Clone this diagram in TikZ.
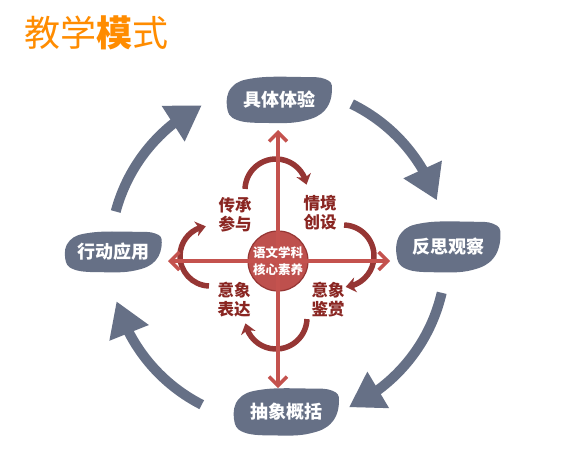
\documentclass[tikz,border=0pt]{standalone}
\usepackage{fontspec}
\setmainfont{Noto Sans CJK SC}
\usetikzlibrary{arrows.meta,bending,backgrounds}
\definecolor{slate}{RGB}{102,112,134}
\definecolor{redln}{RGB}{196,82,78}
\definecolor{corefill}{RGB}{190,80,77}
\definecolor{darkred}{RGB}{150,54,52}
\definecolor{lblred}{RGB}{138,38,34}
\definecolor{orng}{RGB}{255,140,0}
\newcommand\blobat[3]{\fill[slate, shift={(#1)}, xscale=#2, yscale=#3]
  plot[smooth cycle, tension=0.7] coordinates {(-52,7) (-47,-13) (-24,-22) (22,-23) (46,-21) (53,-11) (46,10) (24,21) (-10,23) (-42,20)};}
\begin{document}
\begin{tikzpicture}[x=1pt,y=-1pt,
  blobtext/.style={text=white, font=\bfseries\fontsize{18}{20}\selectfont, inner sep=0pt},
  lbl/.style={text=lblred, font=\bfseries\fontsize{16.5}{19}\selectfont, align=center, inner sep=0pt},
  core/.style={circle, minimum size=60pt, inner sep=0pt, text=white, align=center, font=\bfseries\fontsize{12.5}{17}\selectfont},
  bigarc/.style={slate, line width=10pt, -{Triangle[length=34pt,width=40pt]}},
  smallarc/.style={darkred, line width=5.5pt, -{Stealth[length=10pt,width=15pt,inset=3pt]}},
  redarrow/.style={redln, line width=3.5pt, -{Straight Barb[length=9pt,width=18pt]}}]
\useasboundingbox (0,0) rectangle (577,463);

% title
\node[anchor=west, text=orng, inner sep=0pt, font=\fontsize{36}{40}\selectfont] (title) at (24,33) {教学\textbf{模}式};

% outer cycle
\coordinate (C) at (278,255);
\node[blobtext] (exp) at (279,100) {具体体验};
\node[blobtext] (refl) at (448,247) {反思观察};
\node[blobtext] (abs) at (286,412) {抽象概括};
\node[blobtext] (app) at (113,252) {行动应用};

\draw[bigarc] (C) ++(195:168) arc[start angle=195, end angle=243, radius=168];
\draw[bigarc] (C) ++(296:168) arc[start angle=296, end angle=341, radius=168];
\draw[bigarc] (C) ++(13:168) arc[start angle=13, end angle=65, radius=168];
\draw[bigarc] (C) ++(117:168) arc[start angle=117, end angle=164, radius=168];

% core
\node[core] (core) at (278,261) {语文学科\\核心素养};
\coordinate (ctop) at (278,130);
\coordinate (cbot) at (278,388);
\coordinate (cleft) at (168,261);
\coordinate (cright) at (390,261);

\node[lbl] (l1) at (235,215) {传承\\参与};
\node[lbl] (l2) at (320,213) {情境\\创设};
\node[lbl] (l3) at (328,300) {意象\\鉴赏};
\node[lbl] (l4) at (234,300) {意象\\表达};

\begin{scope}[on background layer]
  \fill[white] (0,0) rectangle (577,463);
  \blobat{exp.center}{1}{1}
  \blobat{refl.center}{0.99}{1.1}
  \blobat{abs.center}{1}{1.02}
  \blobat{app.center}{0.92}{0.88}
  % small cycle
  \draw[smallarc] (276,190) ++(182:31) arc[start angle=182, end angle=350, radius=31];
  \draw[smallarc] (343,256) ++(272:31) arc[start angle=272, end angle=445, radius=31];
  \draw[smallarc] (276,318) ++(2:31) arc[start angle=2, end angle=170, radius=31];
  \draw[smallarc] (210,256) ++(92:30) arc[start angle=92, end angle=262, radius=30];
  % core disc
  \fill[corefill, draw=darkred, line width=1.2pt] (core.center) circle[radius=30];
  % red cross
  \draw[redarrow] (core.center) -- (ctop);
  \draw[redarrow] (core.center) -- (cbot);
  \draw[redarrow] (core.center) -- (cleft);
  \draw[redarrow] (core.center) -- (cright);
\end{scope}
\end{tikzpicture}
\end{document}
